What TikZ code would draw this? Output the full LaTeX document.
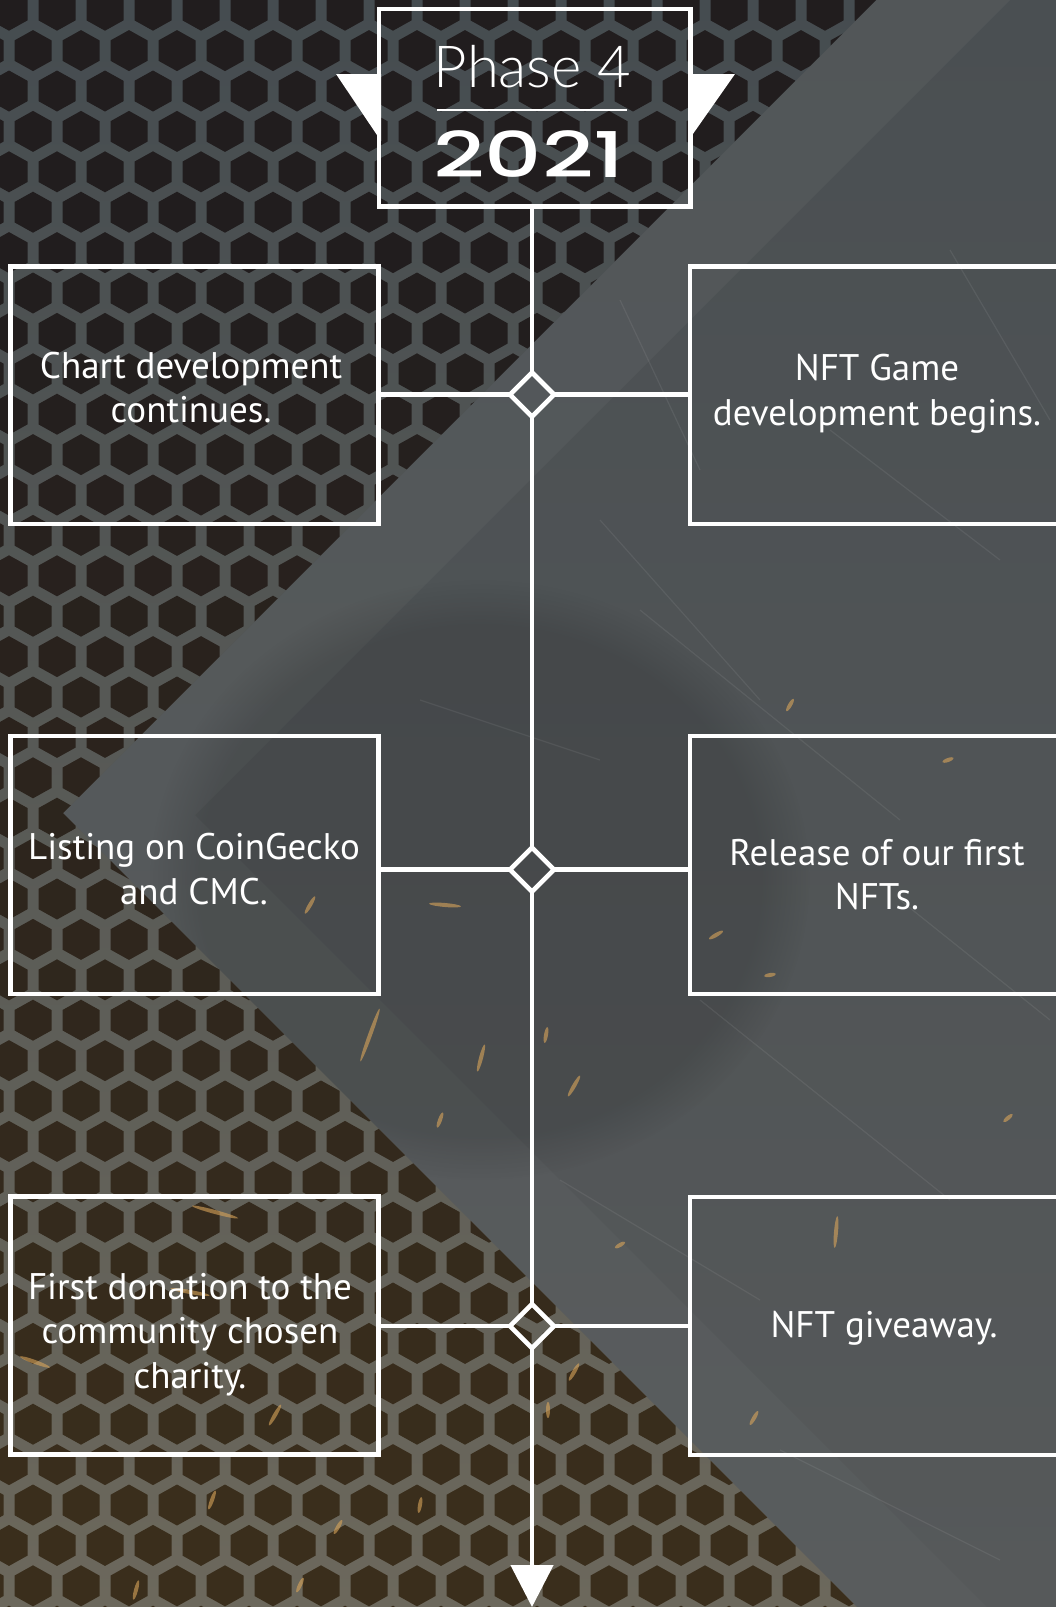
\documentclass[tikz,border=0pt]{standalone}
\usepackage{fontspec}
\setmainfont{PT Sans}
\IfFontExistsTF{Lato Light}{\newfontfamily\phasefont{Lato Light}}{\newfontfamily\phasefont{Lato}}
\IfFontExistsTF{Poppins Medium}{\newfontfamily\yearfont{Poppins Medium}[FakeStretch=1.42]}{\newfontfamily\yearfont{Poppins}[FakeStretch=1.42]}
\usetikzlibrary{shapes.geometric,arrows.meta,fadings}
\definecolor{stoneA}{HTML}{4A4F52}
\definecolor{stoneB}{HTML}{56595A}
\definecolor{bandc}{HTML}{5E6263}
\definecolor{barA}{HTML}{454C50}
\definecolor{barB}{HTML}{6C685C}
\definecolor{holeA}{HTML}{211D1E}
\definecolor{holeB}{HTML}{3A2E1C}
\definecolor{spark}{HTML}{D9A55A}
\begin{document}
\begin{tikzpicture}[x=1pt,y=-1pt,
  cardbox/.style={draw=white, line width=4.9pt, rectangle, inner sep=0pt, outer sep=0pt},
  junction/.style={draw=white, line width=4.6pt, diamond, aspect=1, minimum width=44pt, minimum height=44pt, inner sep=0pt, outer sep=0pt},
  wire/.style={draw=white, line width=4.7pt},
  cardtext/.style={text=white, align=center, font=\fontsize{37}{44.5}\selectfont, anchor=base, inner sep=0pt},
  sparkmark/.style={fill=spark, opacity=0.6},
  scratch/.style={draw=white, opacity=0.07, line width=1.2pt}
]
\useasboundingbox (0,0) rectangle (1056,1607);
\begin{scope}
\clip (0,0) rectangle (1056,1607);
% stone background
\shade[top color=stoneA, bottom color=stoneB] (0,0) rectangle (1056,1607);
\fill[bandc, opacity=0.4] (876,0) -- (63,813) -- (857,1607) -- (987,1607) -- (195,815) -- (1010,0) -- cycle;
\fill[black, opacity=0.12, path fading=circle with fuzzy edge 15 percent] (480,880) ellipse (330 and 300);
% scratches on the stone
\foreach \ax/\ay/\bx/\by in {600/520/760/700, 640/610/900/820, 830/430/1000/560, 700/1000/950/1200, 560/1180/760/1300, 900/900/1050/1020, 420/700/600/760, 780/1450/1000/1560, 950/250/1050/420, 620/300/700/470}{
  \draw[scratch] (\ax,\ay) -- (\bx,\by);
}
% hex mesh
\begin{scope}
\clip (0,0) -- (876,0) -- (0,876) -- cycle (0,750) -- (857,1607) -- (0,1607) -- cycle;
\shade[top color=barA, bottom color=barB] (0,0) rectangle (900,1607);
\foreach \j in {0,...,40}{
  \pgfmathsetmacro\yy{10.2+40.4*\j}
  \pgfmathsetmacro\xo{mod(\j,2)==1 ? 33 : 9}
  \pgfmathtruncatemacro\pct{min(100,max(0,(\yy-250)/12.5))}
  \colorlet{holec}{holeB!\pct!holeA}
  \foreach \i in {-1,...,18}{
    \fill[holec, shift={(\xo+48*\i,\yy)}] (0,-20.5) -- (18.5,-10.2) -- (18.5,10.2) -- (0,20.5) -- (-18.5,10.2) -- (-18.5,-10.2) -- cycle;
  }
}
\end{scope}
% sparks
\foreach \px/\py/\ang/\len in {370/1035/70/28, 481/1058/75/14, 574/1086/60/12, 445/905/-5/16, 310/905/60/10, 546/1035/80/8, 790/705/60/7, 948/760/20/6, 836/1232/85/16, 716/935/30/8, 754/1418/60/8, 1008/1118/40/6, 574/1372/60/10, 548/1410/90/8, 190/1292/-10/20, 215/1212/-15/24, 35/1362/-20/16, 275/1415/60/12, 212/1500/70/10, 338/1527/60/8, 420/1505/80/8, 136/1590/75/10, 300/1585/65/8, 620/1245/30/6, 440/1120/70/8, 770/975/10/6}{
  \fill[sparkmark, rotate around={\ang:(\px,\py)}] (\px,\py) ellipse ({\len} and 2);
}
% header
\fill[white] (336,74) -- (381,74) -- (381,141) -- cycle;
\fill[white] (735,74) -- (688,74) -- (688,141) -- cycle;
\node[cardbox, minimum width=311.5pt, minimum height=197.5pt] (hdr) at (534.75,107.75) {};
\node[text=white, anchor=base, inner sep=0pt, font=\phasefont\fontsize{58}{58}\selectfont] (phase) at (532.5,87) {Phase 4};
\draw[white, line width=2.6pt] (437,110) -- (627,110);
\node[text=white, anchor=base, inner sep=0pt, font=\yearfont\fontsize{63}{63}\selectfont] (year) at (529,177) {2021};
% cards
\node[cardbox, minimum width=368pt, minimum height=257.5pt] (c1) at (194.5,395.25) {};
\node[cardbox, minimum width=374pt, minimum height=257.5pt] (c2) at (877,395.25) {};
\node[cardbox, minimum width=368pt, minimum height=258pt] (c3) at (194.5,865) {};
\node[cardbox, minimum width=374pt, minimum height=258pt] (c4) at (877,865) {};
\node[cardbox, minimum width=368pt, minimum height=257.8pt] (c5) at (194.5,1325.6) {};
\node[cardbox, minimum width=388pt, minimum height=258pt] (c6) at (884,1326) {};
% junctions
\node[junction] (d1) at (532,394.5) {};
\node[junction] (d2) at (532,869.5) {};
\node[junction] (d3) at (532,1326) {};
\coordinate (tip) at (532,1607);
% connectors
\draw[wire] (hdr.south -| d1.north) -- (d1.north);
\draw[wire] (d1.south) -- (d2.north);
\draw[wire] (d2.south) -- (d3.north);
\draw[wire, -{Triangle[width=42pt,length=42pt]}] (d3.south) -- (tip);
\draw[wire] (c1.east |- d1.west) -- (d1.west);
\draw[wire] (d1.east) -- (c2.west |- d1.east);
\draw[wire] (c3.east |- d2.west) -- (d2.west);
\draw[wire] (d2.east) -- (c4.west |- d2.east);
\draw[wire] (c5.east |- d3.west) -- (d3.west);
\draw[wire] (d3.east) -- (c6.west |- d3.east);
% texts (base anchor = baseline of the last line)
\node[cardtext] (t1) at (191,422.5) {Chart development\\continues.};
\node[cardtext] (t2) at (877,425) {NFT Game\\development begins.};
\node[cardtext] (t3) at (194,904) {Listing on CoinGecko\\and CMC.};
\node[cardtext] (t4) at (877,909.5) {Release of our first\\NFTs.};
\node[cardtext] (t5) at (190,1388) {First donation to the\\community chosen\\charity.};
\node[cardtext] (t6) at (884,1337) {NFT giveaway.};
\end{scope}
\end{tikzpicture}
\end{document}
